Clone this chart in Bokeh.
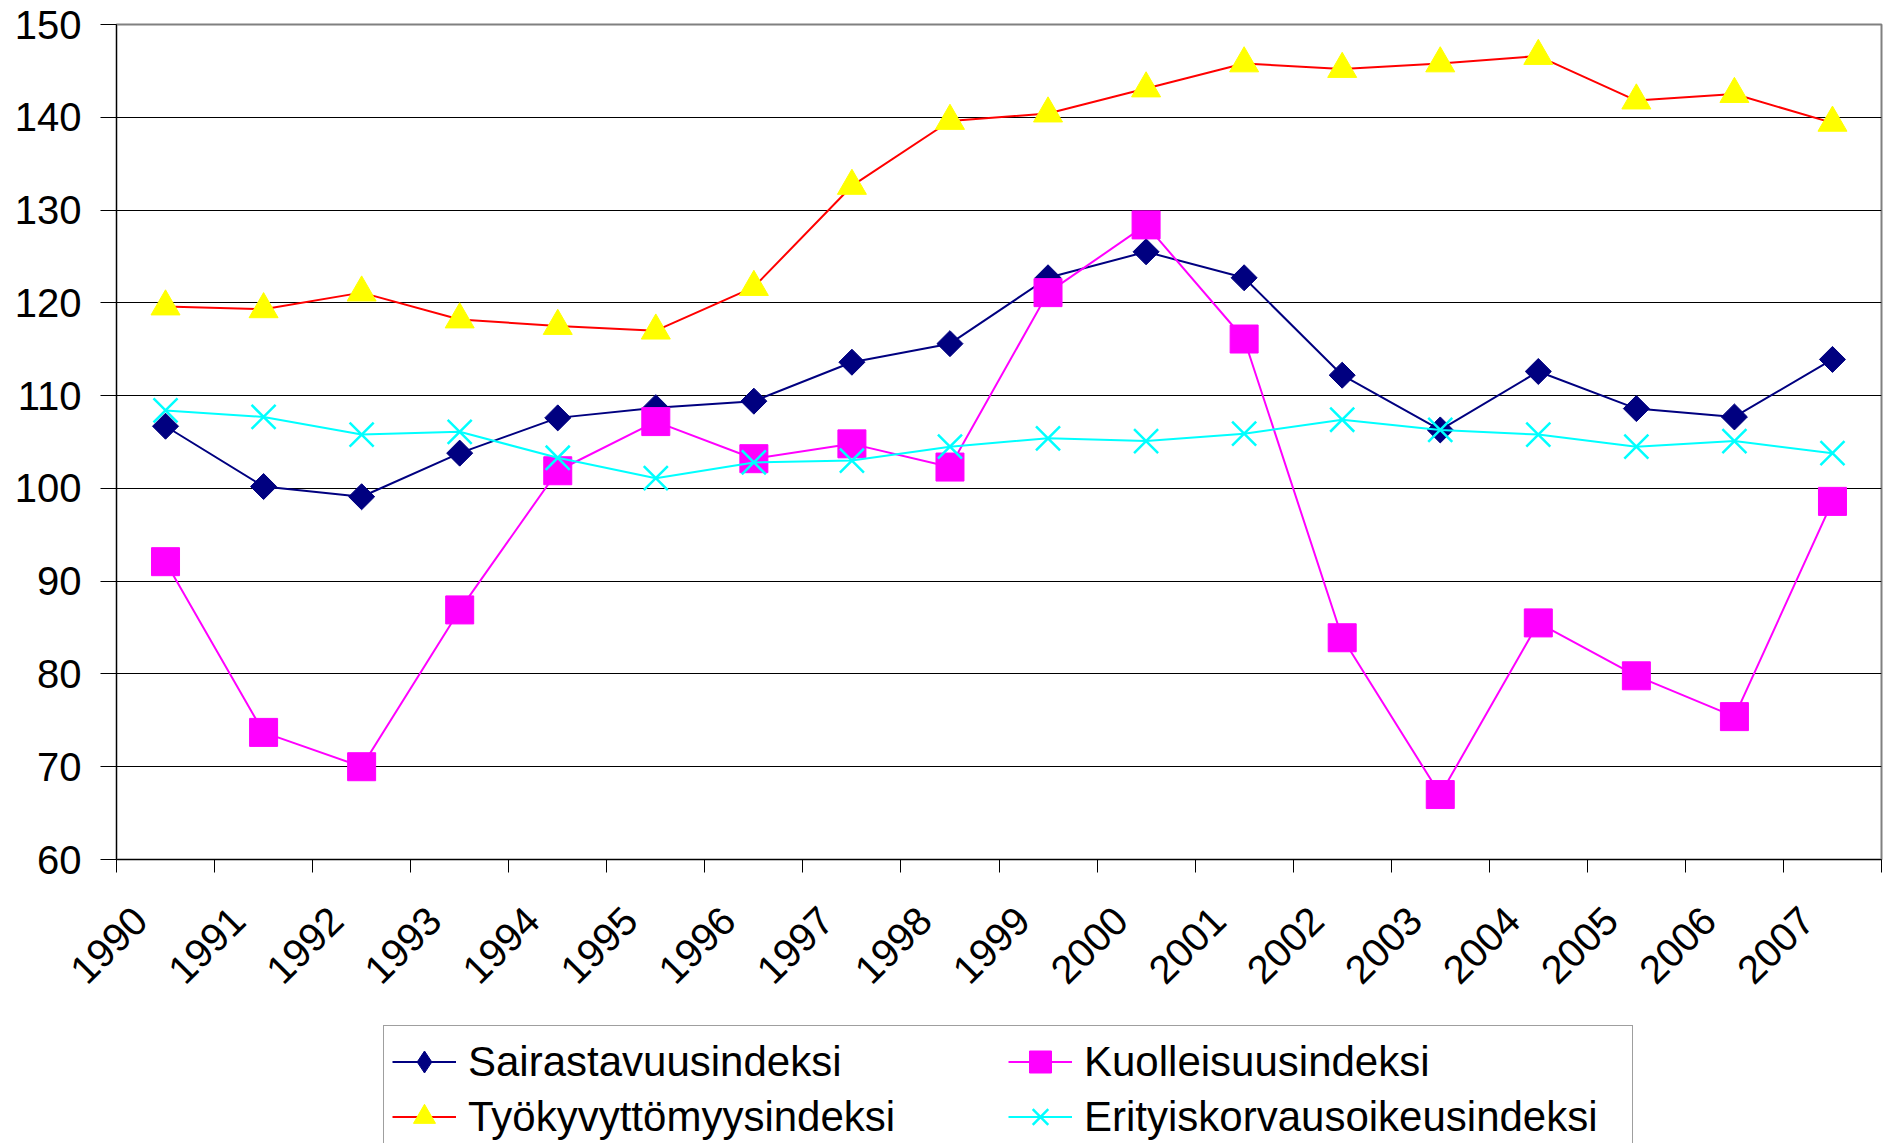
import math
from bokeh.plotting import figure
from bokeh.layouts import column
from bokeh.models import FixedTicker, Legend, LegendItem, Range1d
from bokeh.embed import file_html
from bokeh.resources import INLINE

years = [str(y) for y in range(1990, 2008)]
sairastavuus = [106.7, 100.2, 99.1, 103.8, 107.6, 108.7, 109.4, 113.6, 115.6,
                122.7, 125.5, 122.7, 112.2, 106.3, 112.6, 108.6, 107.7, 113.9]
kuolleisuus = [92.1, 73.7, 70.0, 86.9, 101.9, 107.2, 103.2, 104.8, 102.3,
               121.1, 128.4, 116.1, 83.9, 67.0, 85.5, 79.8, 75.4, 98.6]
tyokyvyttomyys = [119.6, 119.3, 121.1, 118.2, 117.5, 117.0, 121.7, 132.6, 139.6,
                  140.4, 143.1, 145.8, 145.2, 145.8, 146.6, 141.8, 142.5, 139.4]
erityiskorvaus = [108.4, 107.7, 105.8, 106.1, 103.3, 101.1, 102.8, 103.0, 104.5,
                  105.4, 105.1, 105.9, 107.4, 106.3, 105.8, 104.5, 105.1, 103.8]
series_names = ["Sairastavuusindeksi", "Kuolleisuusindeksi",
                "Työkyvyttömyysindeksi", "Erityiskorvausoikeusindeksi"]
y_ticks = [60, 70, 80, 90, 100, 110, 120, 130, 140, 150]

n = len(years)
xs = [i + 0.5 for i in range(n)]
FONT = "Liberation Sans"

NAVY, MAGENTA, RED, YELLOW, CYAN = "#000080", "#FF00FF", "#FF0000", "#FFFF00", "#00FFFF"

H1 = 1020
p = figure(width=1883, height=H1, frame_width=1765, frame_height=835,
           x_range=Range1d(0, n), y_range=Range1d(60, 150),
           output_backend="svg", toolbar_location=None,
           min_border_left=116, min_border_top=24, min_border_right=2,
           min_border_bottom=H1 - 24 - 835)

p.background_fill_color = "white"
p.border_fill_color = "white"
p.outline_line_color = "#808080"
p.outline_line_width = 2

# y axis
p.yaxis.ticker = FixedTicker(ticks=y_ticks)
p.yaxis.major_tick_out = 16
p.yaxis.major_tick_in = 0
p.yaxis.minor_tick_line_color = None
p.yaxis.major_label_standoff = 19
p.yaxis.major_label_text_font = FONT
p.yaxis.major_label_text_font_size = "40px"
p.yaxis.major_label_text_color = "black"
p.yaxis.axis_line_color = "black"
p.yaxis.major_tick_line_color = "black"

# x axis: labels near category centers, ticks at category boundaries
label_pos = [i + 0.24 for i in range(n)]
p.xaxis.ticker = FixedTicker(ticks=label_pos, minor_ticks=list(range(n + 1)))
p.xaxis.major_label_overrides = {pos: yr for pos, yr in zip(label_pos, years)}
p.xaxis.major_tick_line_color = None
p.xaxis.major_tick_out = 0
p.xaxis.major_tick_in = 0
p.xaxis.minor_tick_out = 13
p.xaxis.minor_tick_in = 0
p.xaxis.minor_tick_line_color = "black"
p.xaxis.major_label_orientation = math.pi / 4
p.xaxis.major_label_standoff = 41
p.xaxis.major_label_text_font = FONT
p.xaxis.major_label_text_font_size = "40px"
p.xaxis.major_label_text_color = "black"
p.xaxis.axis_line_color = "black"

p.xgrid.grid_line_color = None
p.ygrid.grid_line_color = "black"
p.ygrid.grid_line_width = 1


def draw_series(fig, x, y, legend_proxy=False):
    out = []
    if legend_proxy:
        # legend glyphs ignore the marker angle, so use the diamond marker there
        navy_marker = fig.scatter(x, y[0], marker="diamond", size=26,
                                  fill_color=NAVY, line_color=NAVY)
    else:
        navy_marker = fig.scatter(x, y[0], marker="square", size=18.4,
                                  angle=math.pi / 4, fill_color=NAVY, line_color=NAVY)
    out.append((fig.line(x, y[0], line_color=NAVY, line_width=2), navy_marker))
    out.append((fig.line(x, y[1], line_color=MAGENTA, line_width=2),
                fig.scatter(x, y[1], marker="square", size=28,
                            fill_color=MAGENTA, line_color=MAGENTA)))
    out.append((fig.line(x, y[2], line_color=RED, line_width=2),
                fig.scatter(x, y[2], marker="triangle", size=29,
                            fill_color=YELLOW, line_color=YELLOW)))
    out.append((fig.line(x, y[3], line_color=CYAN, line_width=2),
                fig.scatter(x, y[3], marker="x", size=34,
                            line_color=CYAN, line_width=2.5)))
    return out


draw_series(p, xs, [sairastavuus, kuolleisuus, tyokyvyttomyys, erityiskorvaus])

# legend strip below the chart (own canvas so the legend is not clipped by the frame)
H2 = 1143 - H1
q = figure(width=1883, height=H2, x_range=Range1d(0, 1), y_range=Range1d(0, 1),
           x_axis_type=None, y_axis_type=None, output_backend="svg",
           toolbar_location=None, min_border=0)
q.outline_line_color = None
q.background_fill_color = "white"
q.border_fill_color = "white"
# legend proxies placed outside the visible range
proxy_x = [0.5, 0.6]
proxy_y = [-5, -5]
proxies = draw_series(q, proxy_x, [proxy_y] * 4, legend_proxy=True)

GH = 55
SP = 0
PAD = 8
legend = Legend(items=[LegendItem(label=name, renderers=list(r))
                       for name, r in zip(series_names, proxies)],
                ncols=2, orientation="horizontal")
legend.label_text_font = FONT
legend.label_text_font_size = "42px"
legend.label_text_color = "black"
legend.label_height = GH
legend.label_width = 540
legend.glyph_height = GH
legend.glyph_width = 64
legend.label_standoff = 12
legend.spacing = SP
legend.padding = PAD
legend.margin = 0
legend.border_line_color = "#404040"
legend.border_line_width = 1.5
legend.background_fill_color = "white"
legend.background_fill_alpha = 1.0
legend_height = 2 * GH + SP + 2 * PAD
legend.location = (267, H2 - 7 - legend_height)
q.add_layout(legend, "center")

layout = column(p, q, spacing=0)
open("out.html", "w").write(file_html(layout, INLINE))
